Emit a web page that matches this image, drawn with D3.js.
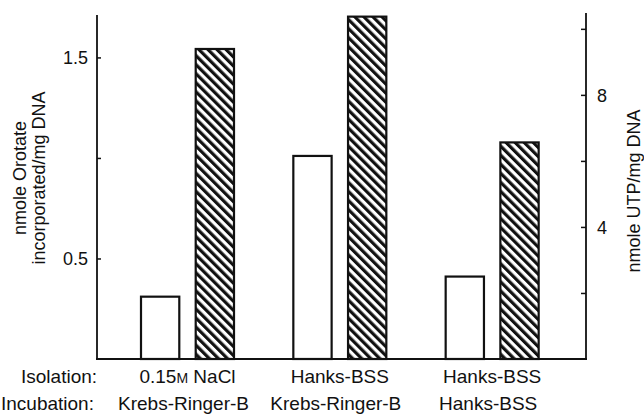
<!DOCTYPE html>
<html>
<head>
<meta charset="utf-8">
<script src="https://cdn.jsdelivr.net/npm/d3@7"></script>
<style>
  html, body { margin: 0; padding: 0; background: #fff; }
  svg text { font-family: "Liberation Sans", Arial, Helvetica, sans-serif; fill: #111; }
</style>
</head>
<body>
<svg id="chart" width="644" height="420"></svg>
<script>
// Three isolation / incubation conditions
const groups = ["g1", "g2", "g3"];
const isolation = ["0.15", "Hanks-BSS", "Hanks-BSS"];
const incubation = ["Krebs-Ringer-B", "Krebs-Ringer-B", "Hanks-BSS"];

// Open bars: orotate incorporated (left axis); hatched bars: UTP content (right axis)
const orotate = [0.31, 1.01, 0.41];
const utp = [9.39, 10.37, 6.56];

// Axis ticks
const leftTicks = [0.5, 1.0, 1.5];
const leftLabelled = [0.5, 1.5];
const rightTicks = [2, 4, 6, 8, 10];
const rightLabelled = [4, 8];

const svg = d3.select("#chart");
const left = 97, right = 586, base = 359;

const yL = d3.scaleLinear().domain([0, 1.711]).range([base, 15]);
const yR = d3.scaleLinear().domain([0, 10.48]).range([base, 13]);

const x0 = d3.scaleBand().domain(groups).range([111, 568]);
const x1 = d3.scaleBand().domain(["orotate", "utp"]).range([30, 123]).paddingInner(0.3);

// Diagonal hatch
const defs = svg.append("defs");
defs.append("pattern")
  .attr("id", "hatch")
  .attr("patternUnits", "userSpaceOnUse")
  .attr("width", 6.4).attr("height", 10)
  .attr("patternTransform", "rotate(-45)")
  .append("rect")
  .attr("x", 0).attr("y", 0).attr("width", 3.2).attr("height", 10)
  .attr("fill", "#111");

const rows = groups.map((g, i) => ({ g, orotate: orotate[i], utp: utp[i] }));

const gBars = svg.append("g").selectAll("g").data(rows).join("g")
  .attr("transform", d => `translate(${x0(d.g)},0)`);

gBars.append("rect")
  .attr("x", x1("orotate")).attr("width", x1.bandwidth())
  .attr("y", d => yL(d.orotate)).attr("height", d => base - yL(d.orotate))
  .attr("fill", "#fff").attr("stroke", "#111").attr("stroke-width", 2.2);

gBars.append("rect")
  .attr("x", x1("utp")).attr("width", x1.bandwidth())
  .attr("y", d => yR(d.utp)).attr("height", d => base - yR(d.utp))
  .attr("fill", "url(#hatch)").attr("stroke", "#111").attr("stroke-width", 2.2);

// Left axis, ticks pointing inward
const axL = d3.axisRight(yL).tickValues(leftTicks).tickSize(4)
  .tickFormat(d => leftLabelled.includes(d) ? d3.format(".1f")(d) : "");
const gL = svg.append("g").attr("transform", `translate(${left},0)`).call(axL);
gL.select(".domain").attr("d", `M0,${yL.range()[1]}V${base}`);
gL.selectAll("text").attr("x", -9).attr("text-anchor", "end")
  .style("font-size", "18px").attr("dy", "0.35em");

// Right axis, ticks pointing inward
const axR = d3.axisLeft(yR).tickValues(rightTicks).tickSize(5)
  .tickFormat(d => rightLabelled.includes(d) ? d : "");
const gR = svg.append("g").attr("transform", `translate(${right},0)`).call(axR);
gR.select(".domain").attr("d", `M0,${yR.range()[1]}V${base}`);
gR.selectAll("text").attr("x", 11).attr("text-anchor", "start")
  .style("font-size", "18px").attr("dy", "0.35em");

svg.selectAll(".domain").attr("stroke", "#111").attr("stroke-width", 1.8);
svg.selectAll(".tick line").attr("stroke", "#111").attr("stroke-width", 1.5);

// Baseline
svg.append("line")
  .attr("x1", left - 1).attr("x2", right + 1)
  .attr("y1", base).attr("y2", base)
  .attr("stroke", "#111").attr("stroke-width", 2.2);

// Axis titles
const tl = svg.append("text")
  .attr("transform", "translate(26,178) rotate(-90)")
  .attr("text-anchor", "middle").style("font-size", "18px");
tl.append("tspan").attr("x", 0).attr("dy", 0).text("nmole Orotate");
tl.append("tspan").attr("x", 0).attr("dy", 19).text("incorporated/mg DNA");

svg.append("text")
  .attr("transform", "translate(640,191) rotate(-90)")
  .attr("text-anchor", "middle").style("font-size", "18px")
  .text("nmole UTP/mg DNA");

// Condition labels
svg.append("text").attr("x", 21).attr("y", 383).style("font-size", "19px").text("Isolation:");
svg.append("text").attr("x", 1).attr("y", 410).style("font-size", "19px").text("Incubation:");

const cx = g => x0(g) + (x1.range()[0] + x1.range()[1]) / 2;

groups.forEach((g, i) => {
  const t = svg.append("text").attr("x", cx(g)).attr("y", 383)
    .attr("text-anchor", "middle").style("font-size", "19px");
  if (i === 0) {
    t.append("tspan").text(isolation[i]);
    t.append("tspan").style("font-size", "14px").text("M");
    t.append("tspan").text(" NaCl");
  } else {
    t.text(isolation[i]);
  }
  svg.append("text").attr("x", cx(g) - 4).attr("y", 410)
    .attr("text-anchor", "middle").style("font-size", "19px").text(incubation[i]);
});
</script>
</body>
</html>
